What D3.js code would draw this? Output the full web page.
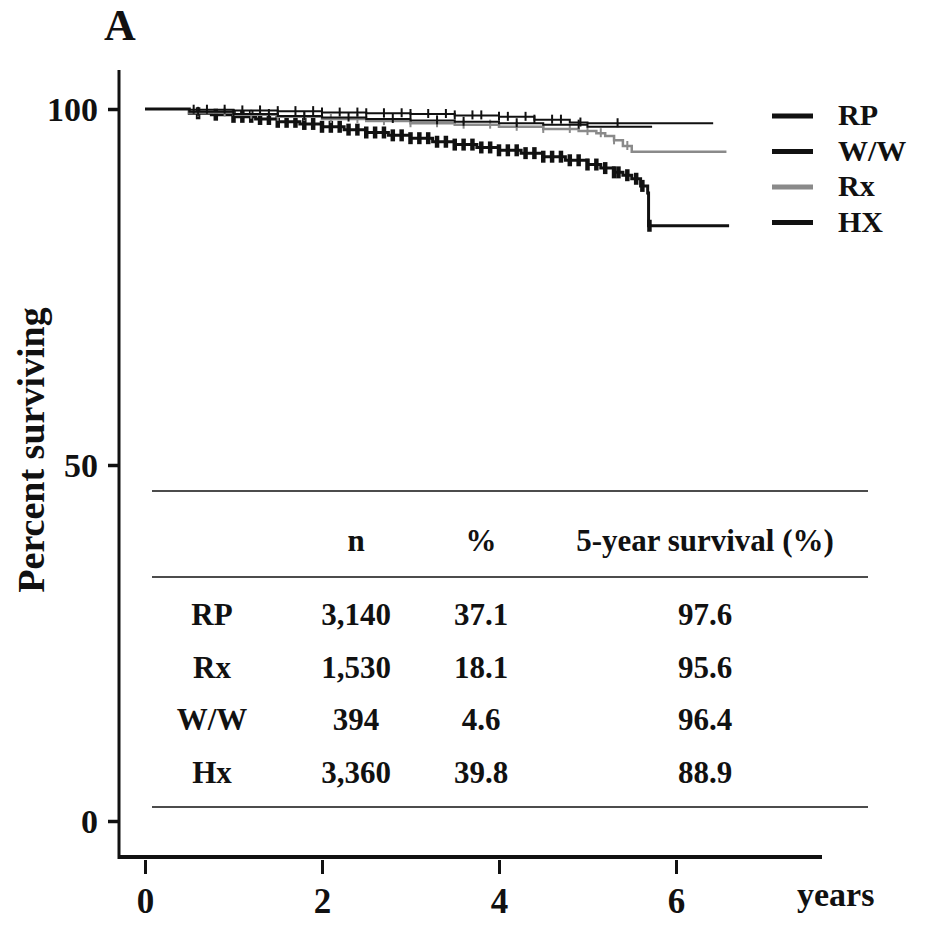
<!DOCTYPE html>
<html>
<head>
<meta charset="utf-8">
<script src="https://cdn.jsdelivr.net/npm/d3@7/dist/d3.min.js"></script>
<style>
  html, body { margin: 0; padding: 0; background: #fff; }
  svg text { font-family: "Liberation Serif", "Times New Roman", serif; font-weight: bold; fill: #111; }
</style>
</head>
<body>
<svg id="chart" width="925" height="927"></svg>
<script>
// survival step points [years, percent]
const rpCurve = [[0, 100], [0.5, 99.9], [1.0, 99.8], [1.5, 99.7], [2.0, 99.5], [2.5, 99.4], [3.0, 99.3], [3.5, 99.1], [4.0, 98.9], [4.4, 98.5], [4.8, 98.1], [5.0, 98.0], [6.42, 98.0]];
const wwCurve = [[0, 100], [0.5, 99.6], [1.0, 99.3], [1.5, 99.0], [2.0, 98.8], [2.5, 98.6], [3.0, 98.4], [3.5, 98.2], [4.0, 98.0], [4.5, 97.8], [5.0, 97.5], [5.73, 97.5]];
const rxCurve = [[0, 100], [0.5, 99.5], [1.0, 99.2], [1.5, 98.9], [2.0, 98.6], [2.5, 98.3], [3.0, 98.0], [3.5, 97.8], [4.0, 97.5], [4.5, 97.2], [4.9, 96.9], [5.1, 96.6], [5.2, 96.2], [5.3, 95.6], [5.4, 94.8], [5.5, 94.0], [6.57, 94.0]];
const hxCurve = [[0, 100], [0.5, 99.4], [0.75, 99.2], [1.0, 98.9], [1.25, 98.6], [1.5, 98.2], [1.75, 97.9], [2.0, 97.5], [2.25, 97.1], [2.5, 96.7], [2.75, 96.3], [3.0, 95.9], [3.25, 95.4], [3.5, 95.0], [3.75, 94.6], [4.0, 94.2], [4.25, 93.8], [4.5, 93.3], [4.75, 92.8], [5.0, 92.2], [5.15, 91.7], [5.3, 91.1], [5.4, 90.7], [5.5, 90.2], [5.6, 89.2], [5.68, 88.2], [5.69, 83.6], [6.6, 83.6]];

// censoring marks (years)
const rpCensor = [0.55, 0.7, 0.9, 1.1, 1.3, 1.5, 1.7, 1.9, 2.0, 2.2, 2.4, 2.5, 2.7, 2.9, 3.0, 3.2, 3.4, 3.5, 3.7, 3.8, 4.0, 4.1, 4.3, 4.4, 4.6, 4.7, 4.92, 5.34];
const wwCensor = [0.6, 1.0, 1.4, 1.8, 2.3, 2.8, 3.3, 3.6, 4.2, 4.9];
const rxCensor = [0.6, 0.9, 1.2, 1.5, 1.8, 2.1, 2.4, 2.7, 3.0, 3.3, 3.6, 3.9, 4.2, 4.5, 4.8, 5.0, 5.15, 5.3, 5.45];
const hxCensor = [0.6, 0.8, 1.0, 1.1, 1.2, 1.3, 1.4, 1.5, 1.6, 1.7, 1.8, 1.9, 2.0, 2.1, 2.2, 2.3, 2.4, 2.5, 2.6, 2.7, 2.8, 2.9, 3.0, 3.1, 3.2, 3.3, 3.4, 3.5, 3.6, 3.7, 3.8, 3.9, 4.0, 4.1, 4.2, 4.3, 4.4, 4.5, 4.6, 4.7, 4.8, 4.9, 5.0, 5.1, 5.2, 5.3, 5.35, 5.45, 5.55, 5.62, 5.7];

const legendLabels = ['RP', 'W/W', 'Rx', 'HX'];
const xTicks = [0, 2, 4, 6];
const yTicks = [0, 50, 100];

// summary table
const tableHeader = ['', 'n', '%', '5-year survival (%)'];
const tableGroups = ['RP', 'Rx', 'W/W', 'Hx'];
const tableN = ['3,140', '1,530', '394', '3,360'];
const tablePct = ['37.1', '18.1', '4.6', '39.8'];
const tableSurv = ['97.6', '95.6', '96.4', '88.9'];

const black = '#111';
const grey = '#8a8a8a';

const series = [
	{ curve: rpCurve, censor: rpCensor, color: black, width: 2, tick: 2, up: 5, down: 4 },
	{ curve: wwCurve, censor: wwCensor, color: black, width: 2, tick: 2, up: 5, down: 4 },
	{ curve: rxCurve, censor: rxCensor, color: grey, width: 2.5, tick: 2, up: 5, down: 4 },
	{ curve: hxCurve, censor: hxCensor, color: black, width: 3, tick: 4.5, up: 6, down: 6 },
];

const svg = d3.select('#chart');

const x = d3.scaleLinear().domain([0, 6]).range([145, 676]);
const y = d3.scaleLinear().domain([0, 100]).range([821, 109]);

// frame
const axisX = 119, axisBottom = 857, axisTop = 70, axisRight = 822;

svg.append('text')
	.attr('x', 104).attr('y', 40)
	.style('font-size', '44px')
	.text('A');

// y axis
svg.append('line')
	.attr('x1', axisX).attr('x2', axisX)
	.attr('y1', axisTop).attr('y2', axisBottom + 2)
	.attr('stroke', black).attr('stroke-width', 3);

const yAxis = svg.append('g')
	.attr('transform', `translate(${axisX},0)`)
	.call(d3.axisLeft(y).tickValues(yTicks).tickFormat(d3.format('d')).tickSize(11).tickPadding(10));
yAxis.select('.domain').remove();
yAxis.selectAll('.tick line').attr('stroke', black).attr('stroke-width', 3.5);
yAxis.selectAll('.tick text')
	.attr('fill', black)
	.style('font-size', '34px')
	.style('font-family', '"Liberation Serif", serif')
	.attr('dy', '0.34em');

// x axis
svg.append('line')
	.attr('x1', axisX - 1).attr('x2', axisRight)
	.attr('y1', axisBottom).attr('y2', axisBottom)
	.attr('stroke', black).attr('stroke-width', 4);

const xAxis = svg.append('g')
	.attr('transform', `translate(0,${axisBottom + 3})`)
	.call(d3.axisBottom(x).tickValues(xTicks).tickFormat(d3.format('d')).tickSize(14).tickPadding(14));
xAxis.select('.domain').remove();
xAxis.selectAll('.tick line').attr('stroke', black).attr('stroke-width', 3);
xAxis.selectAll('.tick text')
	.attr('fill', black)
	.style('font-size', '35px')
	.style('font-family', '"Liberation Serif", serif');

svg.append('text')
	.attr('x', 797).attr('y', 906)
	.style('font-size', '34px')
	.text('years');

svg.append('text')
	.attr('transform', 'translate(44,450) rotate(-90)')
	.attr('text-anchor', 'middle')
	.style('font-size', '38px')
	.text('Percent surviving');

// survival curves
const line = d3.line()
	.x((d) => x(d[0]))
	.y((d) => y(d[1]))
	.curve(d3.curveStepAfter);

const valueAt = (curve, t) => {
	let v = curve[0][1];
	curve.forEach((p) => { if (p[0] <= t) v = p[1]; });
	return v;
};

// draw bottom first so the grey line sits over HX
[3, 2, 1, 0].forEach((i) => {
	const s = series[i];
	svg.append('path')
		.datum(s.curve)
		.attr('fill', 'none')
		.attr('stroke', s.color)
		.attr('stroke-width', s.width)
		.attr('d', line);

	svg.selectAll(null)
		.data(s.censor)
		.join('line')
		.attr('x1', (d) => x(d)).attr('x2', (d) => x(d))
		.attr('y1', (d) => y(valueAt(s.curve, d)) - s.up)
		.attr('y2', (d) => y(valueAt(s.curve, d)) + s.down)
		.attr('stroke', s.color)
		.attr('stroke-width', s.tick);
});

// legend
const legend = svg.append('g');
legendLabels.forEach((label, i) => {
	const ly = 116 + i * 35.5;
	legend.append('line')
		.attr('x1', 772).attr('x2', 813)
		.attr('y1', ly).attr('y2', ly)
		.attr('stroke', series[i].color)
		.attr('stroke-width', 5);
	legend.append('text')
		.attr('x', 838).attr('y', ly + 9)
		.style('font-size', '30px')
		.text(label);
});

// table
const colX = [212, 356, 481, 705];
const rules = [491, 577, 807];
rules.forEach((ry) => {
	svg.append('line')
		.attr('x1', 152).attr('x2', 868)
		.attr('y1', ry).attr('y2', ry)
		.attr('stroke', black).attr('stroke-width', 1.6);
});

const cell = (txt, cx, by) => svg.append('text')
	.attr('x', cx).attr('y', by)
	.attr('text-anchor', 'middle')
	.style('font-size', '31px')
	.text(txt);

tableHeader.forEach((h, c) => cell(h, colX[c], 551));
tableGroups.forEach((g, r) => {
	const by = 625 + r * 52.5;
	cell(g, colX[0], by);
	cell(tableN[r], colX[1], by);
	cell(tablePct[r], colX[2], by);
	cell(tableSurv[r], colX[3], by);
});
</script>
</body>
</html>
